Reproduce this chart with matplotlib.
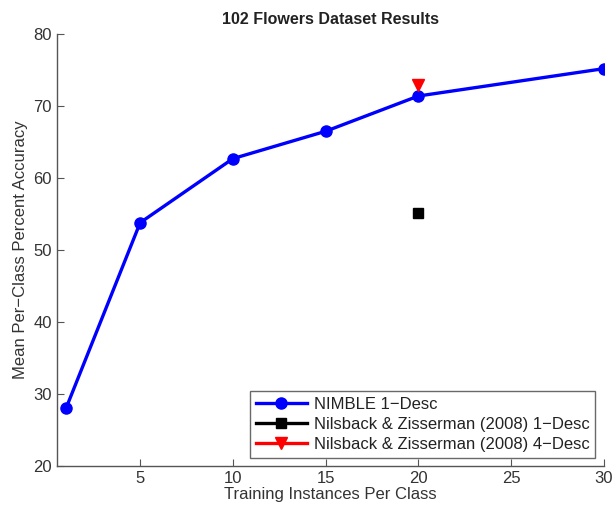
import matplotlib.pyplot as plt

plt.rcParams['font.family'] = ['Liberation Sans', 'DejaVu Sans']

# Veriler
x_nimble = [1, 5, 10, 15, 20, 30]
y_nimble = [28.0, 53.8, 62.7, 66.5, 71.4, 75.2]
x_nz1 = [20]
y_nz1 = [55.2]
x_nz4 = [20]
y_nz4 = [72.9]

fig = plt.figure(figsize=(6.13, 5.09), dpi=100)
ax = fig.add_axes([0.0925, 0.0845, 0.8925, 0.8485])

ax.plot(x_nimble, y_nimble, '-o', color='#0000ff', lw=2.4, ms=8, label='NIMBLE 1\u2212Desc')
ax.plot(x_nz1, y_nz1, '-s', color='black', lw=2.4, ms=7, label='Nilsback & Zisserman (2008) 1\u2212Desc')
ax.plot(x_nz4, y_nz4, '-v', color='#ff0000', lw=2.4, ms=9, label='Nilsback & Zisserman (2008) 4\u2212Desc')

ax.set_xlim(0.5, 30)
ax.set_ylim(20, 80)
ax.set_xticks([5, 10, 15, 20, 25, 30])
ax.set_yticks([20, 30, 40, 50, 60, 70, 80])

ax.spines['top'].set_visible(False)
ax.spines['right'].set_visible(False)
for s in ['left', 'bottom']:
    ax.spines[s].set_color('#555555')
    ax.spines[s].set_linewidth(1.0)
ax.tick_params(direction='in', length=5, colors='#555555', labelcolor='#333333', labelsize=12)

ax.set_title('102 Flowers Dataset Results', fontsize=11.5, fontweight='bold', color='#222222', pad=7)
ax.set_xlabel('Training Instances Per Class', fontsize=12, color='#333333', labelpad=1)
ax.set_ylabel('Mean Per\u2212Class Percent Accuracy', fontsize=12, color='#333333', labelpad=4)

leg = ax.legend(loc='lower right', fontsize=12, frameon=True, fancybox=False,
                borderpad=0.35, labelspacing=0.3, handlelength=3.1, handletextpad=0.4,
                borderaxespad=0.5)
leg.get_frame().set_edgecolor('#444444')
leg.get_frame().set_linewidth(1.0)
for t in leg.get_texts():
    t.set_color('#222222')

fig.savefig('out.png', dpi=100)
